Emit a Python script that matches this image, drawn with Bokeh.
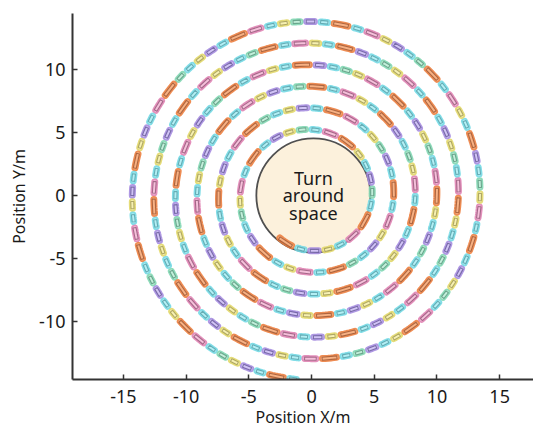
import numpy as np
from bokeh.plotting import figure
from bokeh.models import Range1d
from bokeh.core.properties import value
from bokeh.embed import file_html
from bokeh.resources import INLINE

# ---- data ----
spiral_start_radius = 4.21      # m, radius where the spiral starts
spiral_pitch = 1.72             # m gained per full turn
spiral_start_angle = -130.0     # degrees
spiral_turns = 6.1

core_x, core_y, core_r = 0.15, 0.0, 4.55
core_label = ["Turn", "around", "space"]

x_ticks = [-15, -10, -5, 0, 5, 10, 15]
y_ticks = [-10, -5, 0, 5, 10]

car_sequence = [
    "orange", "cyan", "purple", "yellow", "cyan", "pink", "orange", "cyan",
    "mint", "purple", "cyan", "yellow", "orange", "pink", "cyan", "mint",
    "yellow", "purple", "cyan", "orange", "cyan", "pink", "yellow", "mint",
    "cyan", "purple", "orange", "cyan", "yellow", "pink", "cyan", "orange",
    "mint", "cyan", "purple", "yellow", "pink", "cyan", "orange", "cyan",
    "purple", "mint", "yellow", "cyan", "pink", "orange", "cyan", "purple",
    "yellow", "cyan", "mint", "orange", "pink", "cyan", "purple", "yellow",
]
car_length = {"orange": 1.6, "pink": 1.35, "purple": 1.1,
              "cyan": 1.0, "yellow": 1.0, "mint": 1.0}
rim_colors = {"cyan": "#74d9e4", "orange": "#ec8040", "purple": "#a68de0",
              "yellow": "#e2d86a", "pink": "#e084b4", "mint": "#82d7b2"}
fill_colors = {"cyan": "#b8f1f5", "orange": "#f7b58a", "purple": "#d5c8f6",
               "yellow": "#f7f2b8", "pink": "#f6c5de", "mint": "#c8f1de"}
slot_colors = {"cyan": "#4e98a2", "orange": "#97502e", "purple": "#5e5090",
               "yellow": "#99924e", "pink": "#8c4f70", "mint": "#528f75"}

# ---- geometry of the spiral ----
t = np.linspace(0, spiral_turns, 40000)
theta = np.deg2rad(spiral_start_angle) + 2 * np.pi * t
r = spiral_start_radius + spiral_pitch * t
sx = r * np.cos(theta)
sy = r * np.sin(theta)
s = np.concatenate([[0], np.cumsum(np.hypot(np.diff(sx), np.diff(sy)))])

band_xs, band_ys, band_rim, band_fill = [], [], [], []
slot_x, slot_y, slot_w, slot_a, slot_c = [], [], [], [], []
gap = 0.05
pos = 0.0
i = 0
while pos < s[-1]:
    c = car_sequence[i % len(car_sequence)]
    L = car_length[c]
    ss = np.linspace(pos + 0.24, min(pos + L - 0.24, s[-1]), 6)
    band_xs.append(list(np.interp(ss, s, sx)))
    band_ys.append(list(np.interp(ss, s, sy)))
    band_rim.append(rim_colors[c])
    band_fill.append(fill_colors[c])
    m = pos + L / 2
    mx, my = np.interp(m, s, sx), np.interp(m, s, sy)
    dx = np.interp(m + 0.05, s, sx) - np.interp(m - 0.05, s, sx)
    dy = np.interp(m + 0.05, s, sy) - np.interp(m - 0.05, s, sy)
    slot_x.append(mx)
    slot_y.append(my)
    slot_w.append(L - 0.42)
    slot_a.append(np.arctan2(dy, dx))
    slot_c.append(slot_colors[c])
    pos += L + gap
    i += 1

p = figure(width=533, height=433,
           x_range=Range1d(-19.06, 17.70), y_range=Range1d(-14.66, 14.5),
           output_backend="svg", toolbar_location=None,
           min_border_left=72, min_border_top=13, min_border_right=0,
           min_border_bottom=54)
p.outline_line_color = None
p.grid.visible = False
p.background_fill_color = "white"

# central turn-around space
p.circle(x=[core_x], y=[core_y], radius=core_r, fill_color="#fcf1dc",
         line_color="#505050", line_width=1.8)

# vehicles along the spiral
p.multi_line(xs=band_xs, ys=band_ys, line_color=band_rim, line_width=7,
             line_cap="round", line_alpha=0.9)
p.multi_line(xs=band_xs, ys=band_ys, line_color=band_fill, line_width=3.5,
             line_cap="round", line_alpha=0.9)
p.rect(x=slot_x, y=slot_y, width=slot_w, height=0.24, angle=slot_a,
       fill_color=None, line_color=slot_c, line_width=1.1, line_alpha=0.75)

line_gap = 1.42
p.text(x=[core_x] * 3, y=[core_y + line_gap * (1 - k) for k in range(3)],
       text=core_label, text_align="center", text_baseline="middle",
       text_font=value("Noto Sans"), text_font_size="18px", text_color="#1a1a1a")

for ax, ticks, lab in ((p.xaxis, x_ticks, "Position X/m"),
                       (p.yaxis, y_ticks, "Position Y/m")):
    ax.ticker = ticks
    ax.major_label_overrides = {v: str(v) for v in ticks}
    ax.axis_label = lab
    ax.axis_line_color = "#333333"
    ax.axis_line_width = 2
    ax.major_tick_line_color = "#333333"
    ax.major_tick_line_width = 1.5
    ax.major_tick_in = 5
    ax.major_tick_out = 0
    ax.minor_tick_line_color = None
    ax.major_label_text_font = "Noto Sans"
    ax.major_label_text_font_size = "18px"
    ax.major_label_text_color = "#1a1a1a"
    ax.axis_label_text_font = "Noto Sans"
    ax.axis_label_text_font_size = "16px"
    ax.axis_label_text_font_style = "normal"
    ax.axis_label_text_color = "#1a1a1a"
p.xaxis.major_label_standoff = 10
p.xaxis.axis_label_standoff = 0
p.yaxis.major_label_standoff = 7
p.yaxis.axis_label_standoff = 6

open("out.html", "w").write(file_html(p, INLINE))
